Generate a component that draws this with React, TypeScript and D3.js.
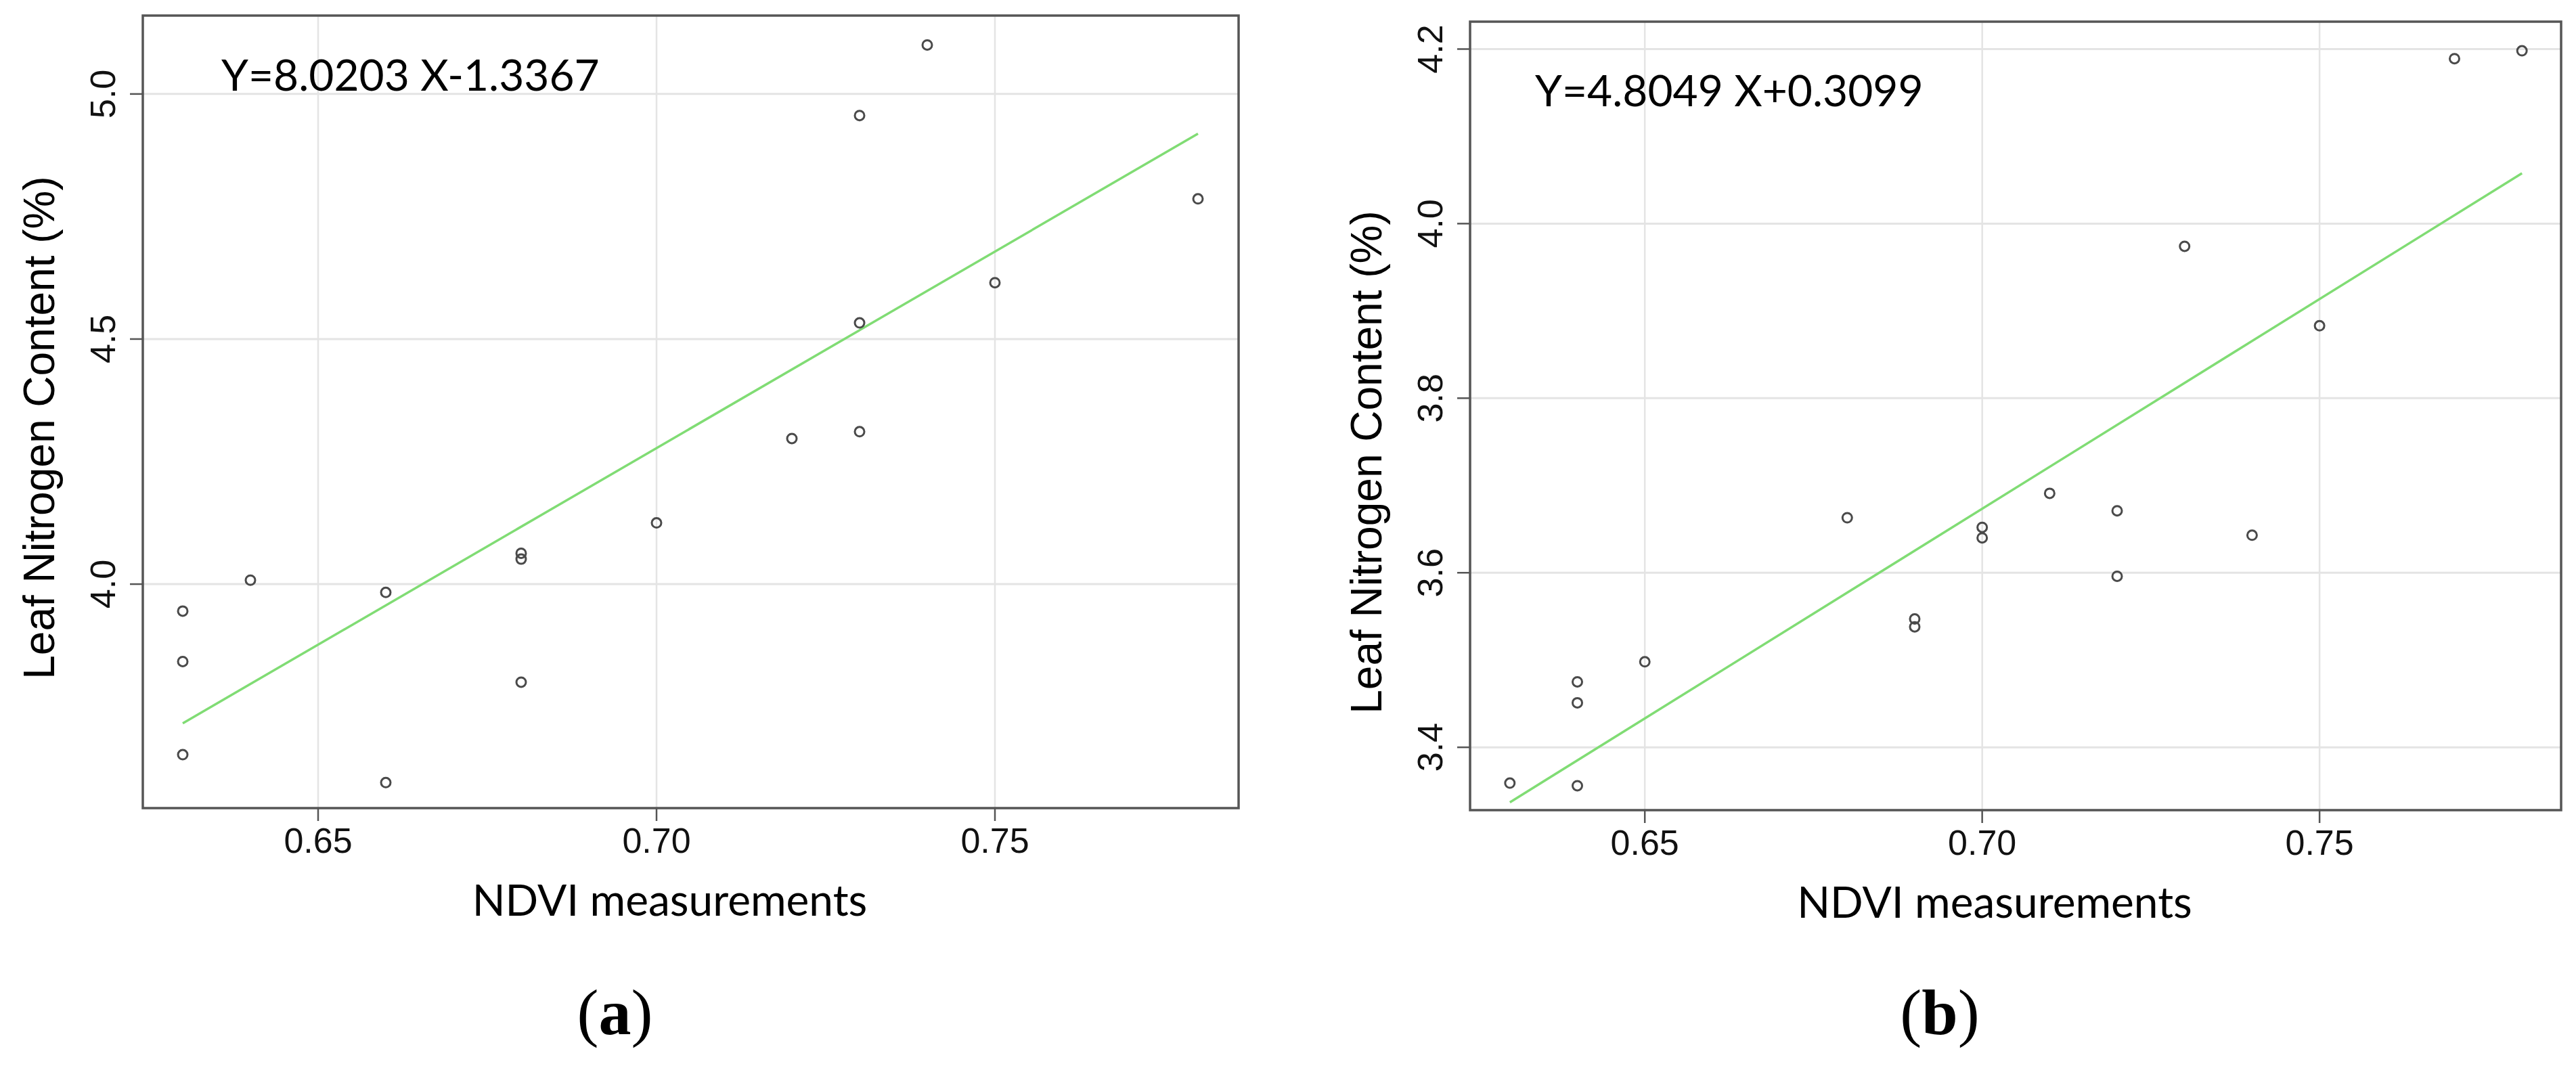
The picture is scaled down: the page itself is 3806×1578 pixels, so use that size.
import React, { useEffect, useRef } from "react";
import * as d3 from "d3";

// Panel (a) data
const ndviA = [0.74, 0.73, 0.78, 0.75, 0.73, 0.72, 0.73, 0.7, 0.68, 0.68, 0.64, 0.66, 0.63, 0.63, 0.68, 0.63, 0.66];
const nitrogenA = [5.1, 4.956, 4.786, 4.615, 4.533, 4.297, 4.311, 4.125, 4.063, 4.051, 4.008, 3.983, 3.945, 3.842, 3.8, 3.652, 3.595];
const yTicksA = [4.0, 4.5, 5.0];

// Panel (b) data
const ndviB = [0.78, 0.77, 0.73, 0.75, 0.71, 0.72, 0.68, 0.7, 0.7, 0.74, 0.72, 0.69, 0.69, 0.65, 0.64, 0.64, 0.63, 0.64];
const nitrogenB = [4.198, 4.189, 3.974, 3.883, 3.691, 3.671, 3.663, 3.652, 3.64, 3.643, 3.596, 3.547, 3.538, 3.498, 3.475, 3.451, 3.359, 3.356];
const yTicksB = [3.4, 3.6, 3.8, 4.0, 4.2];

const xTicks = [0.65, 0.7, 0.75];
const fits = [
  { slope: 8.0203, intercept: -1.3367, label: "Y=8.0203 X-1.3367" },
  { slope: 4.8049, intercept: 0.3099, label: "Y=4.8049 X+0.3099" },
];
const panelTags = ["a", "b"];
const xTitle = "NDVI measurements";
const yTitle = "Leaf Nitrogen Content (%)";

const W = 3806;
const H = 1578;
const AXIS_COLOR = "#555";
const GRID_COLOR = "#e4e4e4";
const FIT_COLOR = "#80dc74";

const panels = [
  {
    xs: ndviA, ys: nitrogenA, yTicks: yTicksA, fit: fits[0], tag: panelTags[0],
    box: { left: 211, right: 1830, top: 23, bottom: 1194 },
    xDomain: [0.6241, 0.786], yDomain: [3.543, 5.16], yFmt: ".1f",
    eq: { x: 327, y: 134 }, yTitleY: 632,
  },
  {
    xs: ndviB, ys: nitrogenB, yTicks: yTicksB, fit: fits[1], tag: panelTags[1],
    box: { left: 2172, right: 3784, top: 32, bottom: 1197 },
    xDomain: [0.6241, 0.7858], yDomain: [3.328, 4.2314], yFmt: ".1f",
    eq: { x: 2268, y: 157 }, yTitleY: 683,
  },
];

function drawPanel(svg, p) {
  const { box } = p;
  const x = d3.scaleLinear().domain(p.xDomain).range([box.left, box.right]);
  const y = d3.scaleLinear().domain(p.yDomain).range([box.bottom, box.top]);
  const g = svg.append("g");

  // grid
  xTicks.forEach((t) => {
    g.append("line")
      .attr("x1", x(t)).attr("x2", x(t))
      .attr("y1", box.top).attr("y2", box.bottom)
      .attr("stroke", GRID_COLOR).attr("stroke-width", 2.5);
  });
  p.yTicks.forEach((t) => {
    g.append("line")
      .attr("x1", box.left).attr("x2", box.right)
      .attr("y1", y(t)).attr("y2", y(t))
      .attr("stroke", GRID_COLOR).attr("stroke-width", 3);
  });

  // fitted line over the data range
  const [x0, x1] = d3.extent(p.xs);
  g.append("line")
    .attr("x1", x(x0)).attr("y1", y(p.fit.slope * x0 + p.fit.intercept))
    .attr("x2", x(x1)).attr("y2", y(p.fit.slope * x1 + p.fit.intercept))
    .attr("stroke", FIT_COLOR).attr("stroke-width", 3.5);

  // points
  g.selectAll("circle.pt")
    .data(p.xs.map((v, i) => [v, p.ys[i]]))
    .join("circle")
    .attr("class", "pt")
    .attr("cx", (d) => x(d[0]))
    .attr("cy", (d) => y(d[1]))
    .attr("r", 7)
    .attr("fill", "none")
    .attr("stroke", "#4a4a4a")
    .attr("stroke-width", 3);

  // box
  g.append("rect")
    .attr("x", box.left).attr("y", box.top)
    .attr("width", box.right - box.left).attr("height", box.bottom - box.top)
    .attr("fill", "none").attr("stroke", AXIS_COLOR).attr("stroke-width", 3.5);

  // x axis ticks + labels
  xTicks.forEach((t) => {
    g.append("line")
      .attr("x1", x(t)).attr("x2", x(t))
      .attr("y1", box.bottom).attr("y2", box.bottom + 19)
      .attr("stroke", AXIS_COLOR).attr("stroke-width", 2.5);
    g.append("text")
      .attr("x", x(t)).attr("y", box.bottom + 66)
      .attr("text-anchor", "middle")
      .attr("font-family", "'Liberation Sans', Arial, sans-serif")
      .attr("font-size", 52)
      .attr("fill", "#111")
      .text(d3.format(".2f")(t));
  });

  // y axis ticks + rotated labels
  p.yTicks.forEach((t) => {
    g.append("line")
      .attr("x1", box.left - 19).attr("x2", box.left)
      .attr("y1", y(t)).attr("y2", y(t))
      .attr("stroke", AXIS_COLOR).attr("stroke-width", 2.5);
    g.append("text")
      .attr("transform", `translate(${box.left - 41},${y(t)}) rotate(-90)`)
      .attr("text-anchor", "middle")
      .attr("font-family", "'Liberation Sans', Arial, sans-serif")
      .attr("font-size", 52)
      .attr("fill", "#111")
      .text(d3.format(p.yFmt)(t));
  });

  // titles
  g.append("text")
    .attr("transform", `translate(${box.left - 131},${p.yTitleY}) rotate(-90)`)
    .attr("text-anchor", "middle")
    .attr("font-family", "'Liberation Sans', Arial, sans-serif")
    .attr("font-size", 64)
    .attr("fill", "#000")
    .text(yTitle);

  const cx = (box.left + box.right) / 2;
  g.append("text")
    .attr("x", cx - 31).attr("y", box.bottom + 159)
    .attr("text-anchor", "middle")
    .attr("font-family", "Lato, sans-serif")
    .attr("font-size", 64)
    .attr("fill", "#000")
    .text(xTitle);

  g.append("text")
    .attr("x", p.eq.x).attr("y", p.eq.y)
    .attr("font-family", "Lato, sans-serif")
    .attr("font-size", 64)
    .attr("fill", "#000")
    .text(p.fit.label);

  const tag = g.append("text")
    .attr("x", cx - 112).attr("y", 1528)
    .attr("text-anchor", "middle")
    .attr("font-family", "'Liberation Serif', 'Times New Roman', serif")
    .attr("font-size", 96)
    .attr("fill", "#000");
  tag.append("tspan").text("(");
  tag.append("tspan").attr("font-weight", "bold").text(p.tag);
  tag.append("tspan").text(")");
}

const App = () => {
  const chartRef = useRef(null);

  useEffect(() => {
    if (!chartRef.current) return;
    const svg = d3.select(chartRef.current);
    svg.selectAll("*").remove();
    svg.append("rect").attr("width", W).attr("height", H).attr("fill", "#fff");
    panels.forEach((p) => drawPanel(svg, p));
  }, []);

  return (
    <div style={{ position: "absolute", left: 0, top: 0 }}>
      <svg ref={chartRef} width={W} height={H} style={{ display: "block" }}></svg>
    </div>
  );
};

export default App;
